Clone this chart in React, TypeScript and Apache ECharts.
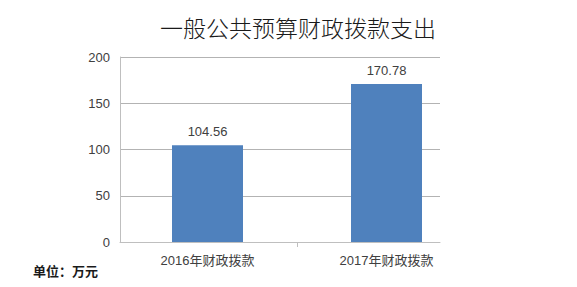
import React, { useEffect, useRef } from "react";
import * as echarts from "echarts";

const titleText = "一般公共预算财政拨款支出";
const unitText = "单位：万元";
const categories = ["2016年财政拨款", "2017年财政拨款"];
const values = [104.56, 170.78];
const yMin = 0;
const yMax = 200;
const yInterval = 50;

const FONT = "'Liberation Sans', 'Noto Sans CJK SC', sans-serif";

export default function App() {
  const ref = useRef<HTMLDivElement>(null);
  useEffect(() => {
    if (!ref.current) return;
    const chart = echarts.init(ref.current, undefined, { renderer: "svg" });
    const gridTop = 57;
    const gridBottom = 45;
    chart.setOption({
      animation: false,
      backgroundColor: "#ffffff",
      title: {
        text: titleText,
        left: 293,
        top: 10,
        textAlign: "center",
        textStyle: {
          fontFamily: "'Noto Sans CJK SC', sans-serif",
          fontSize: 23,
          fontWeight: 300,
          color: "#1a1a1a",
        },
      },
      grid: [
        { left: 120, right: 137, top: gridTop, bottom: gridBottom },
        { left: 118, right: 101, top: gridTop, bottom: gridBottom },
      ],
      xAxis: [
        {
          type: "category",
          gridIndex: 0,
          data: categories,
          axisLine: { show: true, lineStyle: { color: "#bfbfbf", width: 1 } },
          axisTick: { show: false },
          axisLabel: { show: false },
        },
        {
          type: "category",
          gridIndex: 1,
          data: categories,
          axisLine: { show: false },
          axisTick: { show: false },
          axisLabel: {
            show: true,
            margin: 12,
            fontFamily: FONT,
            fontSize: 13,
            color: "#404040",
          },
        },
        {
          type: "value",
          gridIndex: 1,
          min: 0,
          max: 2,
          interval: 1,
          position: "bottom",
          axisLine: { show: false },
          axisTick: {
            show: true,
            customValues: [1],
            length: 5,
            lineStyle: { color: "#bfbfbf" },
          },
          axisLabel: { show: false },
          splitLine: { show: false },
        },
      ],
      yAxis: [
        {
          type: "value",
          gridIndex: 0,
          min: yMin,
          max: yMax,
          interval: yInterval,
          axisLine: { show: true, lineStyle: { color: "#bfbfbf", width: 1 } },
          axisTick: { show: false },
          axisLabel: {
            margin: 10,
            fontFamily: FONT,
            fontSize: 13,
            color: "#404040",
          },
          splitLine: { show: true, lineStyle: { color: "#b3b3b3", width: 1 } },
        },
        {
          type: "value",
          gridIndex: 1,
          min: yMin,
          max: yMax,
          interval: yInterval,
          show: false,
          splitLine: { show: false },
        },
      ],
      series: [
        {
          type: "bar",
          xAxisIndex: 1,
          yAxisIndex: 1,
          data: values,
          barWidth: 71,
          itemStyle: { color: "#4f81bd" },
          label: {
            show: true,
            position: "top",
            distance: 7,
            fontFamily: FONT,
            fontSize: 13,
            color: "#404040",
            formatter: (p: any) => p.value.toFixed(2),
          },
        },
      ],
      graphic: [
        {
          type: "text",
          left: 33,
          top: 264,
          style: {
            text: unitText,
            font: "bold 13px 'Noto Sans CJK SC', sans-serif",
            fill: "#1a1a1a",
          },
        },
      ],
    });
    return () => chart.dispose();
  }, []);
  return (
    <div
      ref={ref}
      style={{ position: "fixed", left: 0, top: 0, width: 577, height: 287, background: "#fff" }}
    />
  );
}
